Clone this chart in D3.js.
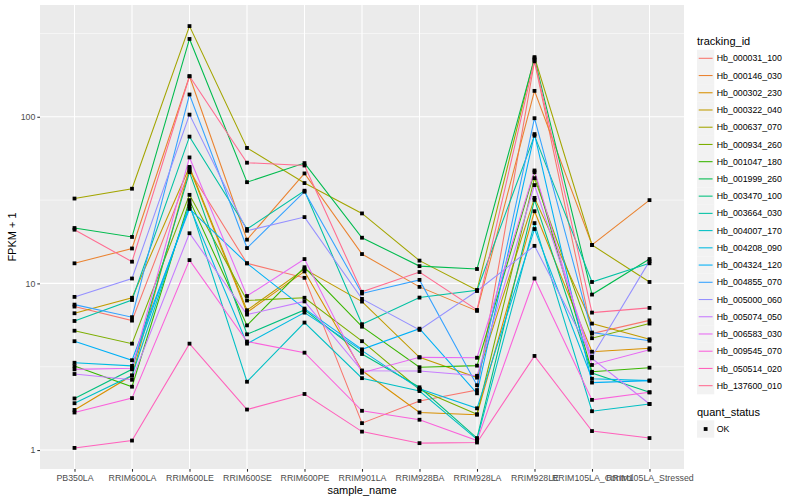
<!DOCTYPE html>
<html>
<head>
<meta charset="utf-8">
<script src="https://cdn.jsdelivr.net/npm/d3@7"></script>
<style>
  body { margin: 0; background: #fff; }
  svg { font-family: "Liberation Sans", Arial, sans-serif; }
</style>
</head>
<body>
<div id="chart"></div>
<script>
// x categories
const samples = ['PB350LA', 'RRIM600LA', 'RRIM600LE', 'RRIM600SE', 'RRIM600PE', 'RRIM901LA',
  'RRIM928BA', 'RRIM928LA', 'RRIM928LE', 'RRIM105LA_Control', 'RRIM105LA_Stressed'];

// tracking ids (legend order)
const trackingIds = ['Hb_000031_100', 'Hb_000146_030', 'Hb_000302_230', 'Hb_000322_040', 'Hb_000637_070',
  'Hb_000934_260', 'Hb_001047_180', 'Hb_001999_260', 'Hb_003470_100', 'Hb_003664_030',
  'Hb_004007_170', 'Hb_004208_090', 'Hb_004324_120', 'Hb_004855_070', 'Hb_005000_060',
  'Hb_005074_050', 'Hb_006583_030', 'Hb_009545_070', 'Hb_050514_020', 'Hb_137600_010'];

// FPKM + 1 per sample, one array per tracking id
const hb000031 = [7.26, 5.98, 47.5, 13.2, 10.8, 1.45, 1.97, 2.29, 215, 5.0, 6.0];
const hb000146 = [13.2, 16.2, 175, 18.3, 45.7, 15, 9.53, 6.84, 143, 17, 31.6];
const hb000302 = [1.74, 2.8, 49, 6.7, 11.8, 3.0, 1.68, 1.63, 27.1, 3.89, 4.08];
const hb000322 = [6.62, 8.2, 50, 6.9, 12.2, 7.78, 3.6, 2.72, 32.6, 5.74, 4.62];
const hb000637 = [32.3, 37, 350, 65, 40, 26.3, 13.7, 9.1, 228, 17, 10.2];
const hb000934 = [5.2, 4.35, 34, 7.9, 8.2, 4.5, 2.31, 1.64, 42.8, 4.69, 5.74];
const hb001047 = [3.19, 2.4, 31.6, 5.6, 12.5, 5.5, 3.14, 3.21, 46.5, 2.95, 3.12];
const hb001999 = [21.5, 19, 293, 40.5, 52.7, 18.8, 12.7, 12.2, 224, 8.57, 14];
const hb003470 = [2.04, 3.05, 46.5, 4.95, 6.93, 3.77, 2.38, 1.18, 31.7, 2.9, 2.22];
const hb003664 = [5.95, 7.95, 76, 21.2, 36, 5.69, 8.22, 9.1, 77, 10.2, 13.2];
const hb004007 = [1.91, 2.8, 30, 2.57, 5.82, 2.7, 2.26, 1.16, 23, 1.71, 1.89];
const hb004208 = [3.34, 3.2, 29, 4.35, 6.68, 3.95, 2.33, 1.78, 21.2, 2.68, 2.61];
const hb004324 = [4.5, 3.46, 28, 13.2, 7.06, 4.02, 5.35, 2.19, 78.7, 2.54, 2.61];
const hb004855 = [7.46, 6.27, 136, 16.3, 35.5, 8.7, 10.5, 2.45, 98, 5.07, 4.53];
const hb005000 = [8.3, 10.7, 103, 20.7, 25, 8.07, 5.26, 9.0, 16.8, 3.63, 13.6];
const hb005074 = [2.86, 2.64, 20, 6.5, 7.8, 2.99, 2.98, 2.79, 38.9, 3.55, 1.89];
const hb006583 = [3.05, 3.1, 57, 8.4, 14, 2.91, 3.6, 3.58, 47.6, 3.24, 4.0];
const hb009545 = [1.68, 2.05, 13.8, 4.48, 3.84, 1.72, 1.52, 1.14, 10.7, 2.0, 2.22];
const hb050514 = [1.03, 1.14, 4.35, 1.75, 2.17, 1.29, 1.1, 1.11, 3.67, 1.3, 1.18];
const hb137600 = [21, 13.5, 175, 53, 51, 8.9, 11.7, 6.93, 219, 6.68, 7.13];

const seriesValues = [hb000031, hb000146, hb000302, hb000322, hb000637, hb000934, hb001047, hb001999,
  hb003470, hb003664, hb004007, hb004208, hb004324, hb004855, hb005000, hb005074, hb006583,
  hb009545, hb050514, hb137600];

// y tick labels
const yTicks = [1, 10, 100];
const yMinor = [3.1623, 31.623, 316.23];

// ggplot default hue palette for 20 levels
const colors = ['#F8766D', '#EA8331', '#D89000', '#C09B00', '#A3A500', '#7CAE00', '#39B600', '#00BB4E',
  '#00BF7D', '#00C1A3', '#00BFC4', '#00BAE0', '#00B0F6', '#35A2FF', '#9590FF', '#C77CFF',
  '#E76BF3', '#FA62DB', '#FF62BC', '#FF6C91'];

const width = 800;
const height = 500;
const panel = { left: 40, right: 684, top: 5, bottom: 469 };

const series = trackingIds.map((id, i) => ({
  id,
  color: colors[i],
  values: samples.map((s, j) => ({ sample: s, value: seriesValues[i][j] }))
}));

const svg = d3.select('#chart')
  .append('svg')
  .attr('width', width)
  .attr('height', height);

// Scales (log y with ggplot's 5% expansion)
const allValues = seriesValues.flat();
const [lo, hi] = d3.extent(allValues).map(Math.log10);
const pad = (hi - lo) * 0.05;

const x = d3.scalePoint()
  .domain(samples)
  .range([panel.left, panel.right])
  .padding(0.6);

const y = d3.scaleLog()
  .domain([Math.pow(10, lo - pad), Math.pow(10, hi + pad)])
  .range([panel.bottom, panel.top]);

// Panel background
svg.append('rect')
  .attr('x', panel.left)
  .attr('y', panel.top)
  .attr('width', panel.right - panel.left)
  .attr('height', panel.bottom - panel.top)
  .attr('fill', '#EBEBEB');

// Grid lines
const grid = svg.append('g');

grid.selectAll('.minor')
  .data(yMinor.filter(v => y(v) >= panel.top))
  .enter()
  .append('line')
  .attr('x1', panel.left)
  .attr('x2', panel.right)
  .attr('y1', d => y(d))
  .attr('y2', d => y(d))
  .attr('stroke', '#fff')
  .attr('stroke-width', 0.53);

grid.selectAll('.major-y')
  .data(yTicks)
  .enter()
  .append('line')
  .attr('x1', panel.left)
  .attr('x2', panel.right)
  .attr('y1', d => y(d))
  .attr('y2', d => y(d))
  .attr('stroke', '#fff')
  .attr('stroke-width', 1.07);

grid.selectAll('.major-x')
  .data(samples)
  .enter()
  .append('line')
  .attr('x1', d => x(d))
  .attr('x2', d => x(d))
  .attr('y1', panel.top)
  .attr('y2', panel.bottom)
  .attr('stroke', '#fff')
  .attr('stroke-width', 1.07);

// Lines
const line = d3.line()
  .x(d => x(d.sample))
  .y(d => y(d.value));

svg.append('g')
  .selectAll('path')
  .data(series)
  .enter()
  .append('path')
  .attr('d', d => line(d.values))
  .attr('fill', 'none')
  .attr('stroke', d => d.color)
  .attr('stroke-width', 1.07);

// Points (quant_status = OK)
svg.append('g')
  .selectAll('rect')
  .data(series.flatMap(d => d.values))
  .enter()
  .append('rect')
  .attr('x', d => x(d.sample) - 1.9)
  .attr('y', d => y(d.value) - 1.9)
  .attr('width', 3.8)
  .attr('height', 3.8)
  .attr('fill', '#000');

// Axes
const yAxis = d3.axisLeft(y)
  .tickValues(yTicks)
  .tickFormat(d3.format('d'))
  .tickSize(2.7)
  .tickPadding(2);

const yAxisG = svg.append('g')
  .attr('transform', `translate(${panel.left},0)`)
  .call(yAxis);

const xAxis = d3.axisBottom(x)
  .tickSize(2.7)
  .tickPadding(2);

const xAxisG = svg.append('g')
  .attr('transform', `translate(0,${panel.bottom})`)
  .call(xAxis);

[yAxisG, xAxisG].forEach(g => {
  g.select('.domain').remove();
  g.selectAll('line').attr('stroke', '#333333').attr('stroke-width', 1.07);
  g.selectAll('text')
    .attr('fill', '#4D4D4D')
    .style('font-size', '8.8px')
    .style('font-family', '"Liberation Sans", Arial, sans-serif');
});

xAxisG.selectAll('text').attr('dy', '0.78em');

// Axis titles
svg.append('text')
  .attr('x', (panel.left + panel.right) / 2)
  .attr('y', 493.5)
  .attr('text-anchor', 'middle')
  .style('font-size', '11px')
  .text('sample_name');

svg.append('text')
  .attr('transform', 'rotate(-90)')
  .attr('x', -(panel.top + panel.bottom) / 2)
  .attr('y', 16)
  .attr('text-anchor', 'middle')
  .style('font-size', '11px')
  .text('FPKM + 1');

// Legend: tracking_id
const legend = svg.append('g')
  .attr('transform', 'translate(697,0)');

legend.append('text')
  .attr('x', 0)
  .attr('y', 44.5)
  .style('font-size', '11px')
  .text('tracking_id');

const keySize = 17.28;
const keys = legend.selectAll('.key')
  .data(series)
  .enter()
  .append('g')
  .attr('transform', (d, i) => `translate(0,${58.3 + i * 17.23 - keySize / 2})`);

keys.append('rect')
  .attr('width', keySize)
  .attr('height', keySize)
  .attr('fill', '#F2F2F2');

keys.append('line')
  .attr('x1', 1.7)
  .attr('x2', keySize - 1.7)
  .attr('y1', keySize / 2)
  .attr('y2', keySize / 2)
  .attr('stroke', d => d.color)
  .attr('stroke-width', 1.07);

keys.append('text')
  .attr('x', keySize + 2.5)
  .attr('y', keySize / 2)
  .attr('dy', '0.35em')
  .style('font-size', '8.8px')
  .text(d => d.id);

// Legend: quant_status
legend.append('text')
  .attr('x', 0)
  .attr('y', 416)
  .style('font-size', '11px')
  .text('quant_status');

const okKey = legend.append('g')
  .attr('transform', `translate(0,${429 - keySize / 2})`);

okKey.append('rect')
  .attr('width', keySize)
  .attr('height', keySize)
  .attr('fill', '#F2F2F2');

okKey.append('rect')
  .attr('x', keySize / 2 - 1.9)
  .attr('y', keySize / 2 - 1.9)
  .attr('width', 3.8)
  .attr('height', 3.8)
  .attr('fill', '#000');

okKey.append('text')
  .attr('x', keySize + 2.5)
  .attr('y', keySize / 2)
  .attr('dy', '0.35em')
  .style('font-size', '8.8px')
  .text('OK');
</script>
</body>
</html>
